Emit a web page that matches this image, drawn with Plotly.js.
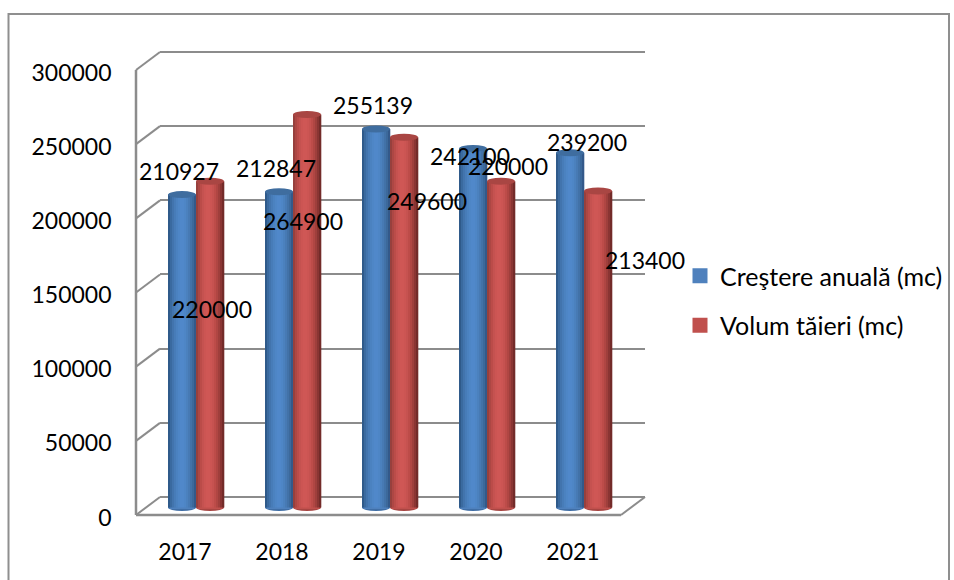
<!DOCTYPE html>
<html><head><meta charset="utf-8">
<script src="https://cdn.plot.ly/plotly-3.0.1.min.js"></script>
<style>html,body{margin:0;padding:0;background:#fff}#c{width:954px;height:580px}</style>
</head><body><div id="c"></div>
<script>
const years = ["2017","2018","2019","2020","2021"];
const growth = [210927,212847,255139,242100,239200];
const cuts = [220000,264900,249600,220000,213400];
const yTicks = [0,50000,100000,150000,200000,250000,300000];
const growthName = "Creştere anuală (mc)";
const cutsName = "Volum tăieri (mc)";

const blueShades = ["#2f5a8a","#3a6a9f","#4274ad","#477cb8","#4b82c0","#4e86c6","#5088ca","#5088ca","#4e86c6","#4b81be","#477ab4","#4272a8","#3c699b","#33598a"];
const redShades  = ["#97403d","#ad4744","#bb4c49","#c55250","#cc5553","#cf5755","#cf5755","#cc5553","#c65250","#bd4c49","#b04643","#9f3f3c","#8a3533","#732b29"];
const blueCap = "#3f6d9f", redCap = "#a94643", blueFoot = "#3f6ea6", redFoot = "#a84542";
const gridColor = "#8c8c8c", frameColor = "#8f8f8f";

// label nudges relative to each value's bar top, in px
const growthDx = [-3,-3,-3,-3,17], growthDy = [24,24,24,-8,11];
const cutsDx = [2,-4,23,7,47], cutsDy = [-128,-106,-64,15,-69];

const W = 954, H = 580;
const fx = p => p / W, fy = p => 1 - p / H;
const font = "Lato, Carlito, sans-serif";
const catPx = 97, cylPx = 28, strips = 14;
const unitPx = 445 / 300000;
const cw = cylPx / catPx, sw = cw / strips;
const barY0 = 507.5;
const labelDrop = 2.5;

const data = [];
// back wall subplot (grid only), front subplot (axes), bar subplot
data.push({type:"scatter",mode:"none",x:[years[0]],y:[0],xaxis:"x",yaxis:"y",showlegend:false,hoverinfo:"skip"});
data.push({type:"scatter",mode:"none",x:years,y:growth,xaxis:"x2",yaxis:"y2",showlegend:false,hoverinfo:"skip"});

function addSeries(name, vals, shades, off, color, group){
  data.push({type:"bar",name:name,x:years,y:vals,xaxis:"x3",yaxis:"y3",legendgroup:group,
    offset:off+0.03,width:cw-0.06,marker:{color:color,line:{color:color,width:3}},hoverinfo:"x+y"});
  shades.forEach((c,k)=>{
    data.push({type:"bar",x:years,y:vals,xaxis:"x3",yaxis:"y3",legendgroup:group,showlegend:false,
      offset:off+k*sw,width:sw*1.15,marker:{color:c,line:{width:0}},hoverinfo:"skip"});
  });
}
addSeries(growthName,growth,blueShades,-cw,"#4f81bd","a");
addSeries(cutsName,cuts,redShades,0,"#c0504d","b");

const shapes = [];
// outer frame
shapes.push({type:"rect",xref:"paper",yref:"paper",x0:fx(8.5),x1:fx(949),y0:fy(14),y1:-0.1,line:{color:frameColor,width:2},layer:"below"});
// wall slants and front edges
yTicks.forEach(v=>{
  const p = 515 - v*unitPx;
  shapes.push({type:"line",xref:"paper",yref:"paper",x0:fx(136),x1:fx(160),y0:fy(p),y1:fy(p-18),line:{color:gridColor,width:2},layer:"below"});
});
shapes.push({type:"line",xref:"paper",yref:"paper",x0:fx(621),x1:fx(645),y0:fy(515),y1:fy(497),line:{color:gridColor,width:2},layer:"below"});
shapes.push({type:"line",xref:"paper",yref:"paper",x0:fx(136),x1:fx(136),y0:fy(515),y1:fy(70),line:{color:gridColor,width:2.5},layer:"below"});
shapes.push({type:"line",xref:"paper",yref:"paper",x0:fx(136),x1:fx(621),y0:fy(515),y1:fy(515),line:{color:gridColor,width:2.5},layer:"below"});
// cylinder caps & feet
const capH = 3.5/unitPx;
function caps(vals,off,top,foot){
  vals.forEach((v,i)=>{
    shapes.push({type:"circle",xref:"x3",yref:"y3",x0:i+off,x1:i+off+cw,y0:-capH,y1:capH,fillcolor:foot,line:{width:0},layer:"below"});
    shapes.push({type:"circle",xref:"x3",yref:"y3",x0:i+off,x1:i+off+cw,y0:v-capH,y1:v+capH,fillcolor:top,line:{width:0},layer:"above"});
  });
}
caps(growth,-cw,blueCap,blueFoot);
caps(cuts,0,redCap,redFoot);

const annotations = [];
function labels(vals,off,dx,dy){
  vals.forEach((v,i)=>annotations.push({xref:"x3",yref:"y3",x:i+off,y:v,text:String(v),showarrow:false,
    xanchor:"center",yanchor:"middle",xshift:dx[i],yshift:dy[i],font:{family:font,size:23,color:"#000"}}));
}
labels(growth,-cw/2,growthDx,growthDy);
labels(cuts,cw/2,cutsDx,cutsDy);

const layout = {
  width:W,height:H,margin:{l:0,r:0,t:0,b:0,pad:0},paper_bgcolor:"#fff",plot_bgcolor:"rgba(0,0,0,0)",
  barmode:"overlay",font:{family:font,color:"#000"},
  xaxis:{type:"category",categoryarray:years,domain:[fx(160),fx(645)],range:[-0.5,4.5],anchor:"y",visible:false,showgrid:false,zeroline:false},
  yaxis:{domain:[fy(497+10000*unitPx),fy(52-10000*unitPx)],range:[-10000,310000],anchor:"x",tickvals:yTicks,tickmode:"array",showticklabels:false,ticks:"",showline:false,zeroline:false,showgrid:true,gridcolor:gridColor,gridwidth:2},
  xaxis2:{type:"category",categoryarray:years,domain:[fx(136.5),fx(621.5)],range:[-0.5,4.5],anchor:"y2",showline:false,showgrid:false,zeroline:false,ticks:"",ticklen:0,tickfont:{family:font,size:23,color:"#000"},ticklabelstandoff:18},
  yaxis2:{domain:[fy(515+labelDrop),fy(70+labelDrop)],range:[0,300000],anchor:"x2",tickvals:yTicks,ticktext:yTicks.map(String),tickmode:"array",showline:false,showgrid:false,zeroline:false,ticks:"",tickfont:{family:font,size:23,color:"#000"},ticklabelstandoff:24},
  xaxis3:{type:"category",categoryarray:years,domain:[fx(147.5),fx(632.5)],range:[-0.5,4.5],anchor:"y3",visible:false,showgrid:false,zeroline:false},
  yaxis3:{domain:[fy(barY0+20000*unitPx),fy(barY0-300000*unitPx)],range:[-20000,300000],anchor:"x3",visible:false,showgrid:false,zeroline:false},
  legend:{x:fx(680),y:fy(253),xanchor:"left",yanchor:"top",bgcolor:"rgba(0,0,0,0)",borderwidth:0,traceorder:"grouped",tracegroupgap:14,font:{family:font,size:25,color:"#000"},itemclick:false,itemdoubleclick:false},
  shapes:shapes,annotations:annotations,showlegend:true
};
Plotly.newPlot("c",data,layout,{displayModeBar:false,responsive:false});
</script></body></html>
